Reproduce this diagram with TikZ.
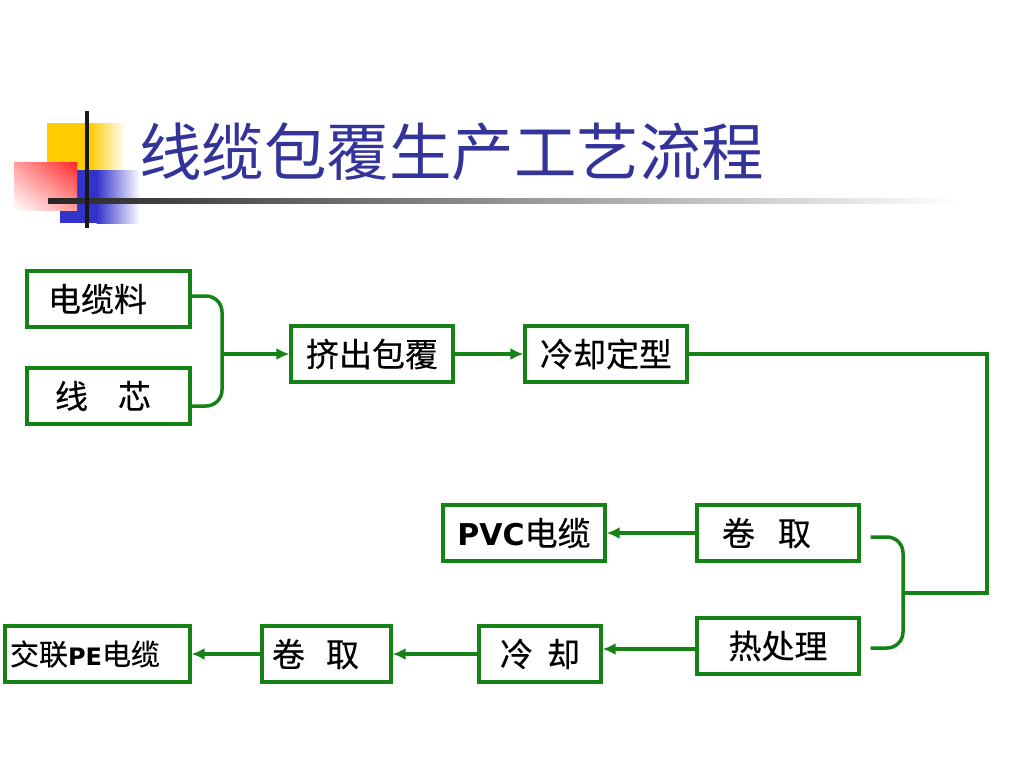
\documentclass[tikz,border=0pt]{standalone}
\usepackage{fontspec}
\newfontfamily\cjk[FakeBold=0.4]{Noto Sans CJK SC}
\newfontfamily\cjkt{Noto Sans CJK SC}
\newfontfamily\dvs{DejaVu Sans}
\usetikzlibrary{arrows.meta,shadings}
\definecolor{lgreen}{RGB}{20,130,20}
\definecolor{ttl}{RGB}{51,51,153}
\definecolor{lyellow}{RGB}{255,204,0}
\definecolor{lred}{RGB}{255,40,40}
\definecolor{lblue}{RGB}{51,51,204}
\begin{document}
\begin{tikzpicture}[x=1pt,y=-1pt,
  box/.style={draw=lgreen, line width=3.2pt, minimum height=56pt, inner sep=0pt,
    font=\cjk\fontsize{33}{33}\selectfont, anchor=center},
  conn/.style={draw=lgreen, line width=3.5pt},
  arr/.style={conn, -{Latex[length=13pt,width=12pt]}},
]
\useasboundingbox (0,0) rectangle (1024,768);
\fill[white] (0,0) rectangle (1024,768);

% logo
\fill[lyellow] (47,123) rectangle (90,172);
\shade[left color=lyellow, right color=white] (89.5,123) rectangle (125,172);
\fill[lblue] (60,170) rectangle (97,223);
\shade[left color=lblue, right color=white] (96.5,170) rectangle (140,223);
\shade[upper right=lred, upper left=lred!45, lower right=lred!45, lower left=white] (14,162) rectangle (77,210);
\shade[left color=black!85, right color=white] (48,198) rectangle (960,203);
\fill[black!90] (85,111) rectangle (89,228);

% title
\node[anchor=base west, inner sep=0pt, text=ttl, font=\cjkt\fontsize{62.5}{62.5}\selectfont]
  (title) at (139,175) {线缆包覆生产工艺流程};

% boxes
\node[box, minimum width=163pt, text width=121pt, align=left, inner xsep=21pt] (a) at (108.5,299) {电缆料};
\node[box, minimum width=163pt, text width=107pt, align=left, inner xsep=28pt] (b) at (108.5,396) {线\hspace{30pt}芯};
\node[box, minimum width=162pt] (c) at (372,354) {挤出包覆};
\node[box, minimum width=162pt] (e) at (606,354) {冷却定型};
\node[box, minimum width=162pt] (pvc) at (524,533) {{\dvs\bfseries\fontsize{30}{30}\selectfont PVC}电缆};
\node[box, minimum width=162pt, text width=112pt, align=left, inner xsep=25pt] (r1) at (778,533) {卷\hspace{23pt}取};
\node[box, minimum width=162pt] (r2) at (778,646) {热处理};
\node[box, minimum width=122pt] (l1) at (540,654) {冷\hspace{14pt}却};
\node[box, minimum width=129pt, text width=109pt, align=left, inner xsep=10pt] (l2) at (326.5,654) {卷\hspace{21pt}取};
\node[box, minimum width=185pt, text width=175pt, align=left, inner xsep=5pt,
  font=\cjk\fontsize{29}{29}\selectfont] (l3) at (97.5,654) {交联{\dvs\bfseries\fontsize{24}{24}\selectfont PE}电缆};

% left brace
\coordinate (lj) at (222,354);
\draw[conn, rounded corners=16pt] ([yshift=3pt]a.east) -- (222,296) -- (222,406) -- ([yshift=-10pt]b.east);
\draw[arr] (lj) -- (c.west);
\draw[arr] (c.east) -- (e.west);

% right loop
\coordinate (rj) at (903,593);
\draw[conn] (e.east) -| (987,593) -- (rj);
\draw[conn, rounded corners=16pt] ([xshift=10pt,yshift=-4pt]r1.east) -- (903,537) -- (903,648) -- ([xshift=10pt,yshift=-2pt]r2.east);

% arrows
\draw[arr] (r1.west) -- (pvc.east);
\draw[arr] ([yshift=-3pt]r2.west) -- ([yshift=-3pt]r2.west -| l1.east);
\draw[arr] (l1.west) -- (l2.east);
\draw[arr] (l2.west) -- (l3.east);
\end{tikzpicture}
\end{document}
